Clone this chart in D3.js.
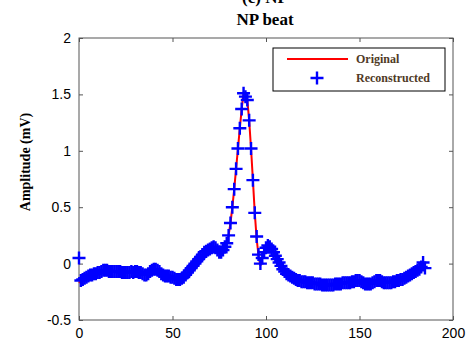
<!DOCTYPE html>
<html>
<head>
<meta charset="utf-8">
<script src="https://cdn.jsdelivr.net/npm/d3@7"></script>
<style>
body { margin: 0; background: #fff; }
</style>
</head>
<body>
<script>
// data (sample index 0..185, amplitude in mV)
var original = [
  -0.17, -0.15, -0.14, -0.13, -0.12, -0.11, -0.10, -0.10, -0.09, -0.09,
  -0.08, -0.08, -0.07, -0.06, -0.06, -0.06, -0.07, -0.07, -0.07, -0.07,
  -0.07, -0.07, -0.07, -0.08, -0.08, -0.08, -0.08, -0.08, -0.07, -0.08,
  -0.07, -0.07, -0.08, -0.08, -0.09, -0.10, -0.10, -0.09, -0.07, -0.06,
  -0.05, -0.05, -0.06, -0.07, -0.09, -0.10, -0.11, -0.11, -0.11, -0.12,
  -0.12, -0.13, -0.14, -0.14, -0.14, -0.13, -0.12, -0.10, -0.08, -0.06,
  -0.04, -0.02, 0.00, 0.02, 0.04, 0.06, 0.08, 0.10, 0.11, 0.12,
  0.13, 0.14, 0.15, 0.14, 0.12, 0.10, 0.10, 0.12, 0.15, 0.18,
  0.25, 0.36, 0.50, 0.66, 0.84, 1.02, 1.20, 1.37, 1.51, 1.50,
  1.45, 1.27, 1.02, 0.74, 0.45, 0.22, 0.07, -0.02, 0.05, 0.10,
  0.14, 0.16, 0.15, 0.13, 0.10, 0.07, 0.04, 0.01, -0.02, -0.05,
  -0.07, -0.09, -0.10, -0.11, -0.12, -0.13, -0.14, -0.15, -0.15, -0.16,
  -0.16, -0.16, -0.17, -0.17, -0.17, -0.17, -0.18, -0.18, -0.18, -0.18,
  -0.19, -0.19, -0.19, -0.19, -0.19, -0.19, -0.19, -0.18, -0.18, -0.18,
  -0.18, -0.17, -0.17, -0.17, -0.17, -0.17, -0.16, -0.16, -0.15, -0.15,
  -0.15, -0.16, -0.17, -0.18, -0.18, -0.18, -0.18, -0.17, -0.16, -0.15,
  -0.15, -0.15, -0.16, -0.17, -0.17, -0.17, -0.17, -0.17, -0.16, -0.16,
  -0.15, -0.15, -0.14, -0.14, -0.13, -0.12, -0.11, -0.10, -0.09, -0.08,
  -0.07, -0.06, -0.05, -0.04, -0.03, -0.05
];
var reconstructed = [
  0.05, -0.15, -0.14, -0.13, -0.12, -0.11, -0.10, -0.10, -0.09, -0.09,
  -0.08, -0.08, -0.07, -0.06, -0.06, -0.06, -0.07, -0.07, -0.07, -0.07,
  -0.07, -0.07, -0.07, -0.08, -0.08, -0.08, -0.08, -0.08, -0.07, -0.08,
  -0.07, -0.07, -0.08, -0.08, -0.09, -0.10, -0.10, -0.09, -0.07, -0.06,
  -0.05, -0.05, -0.06, -0.07, -0.09, -0.10, -0.11, -0.11, -0.11, -0.12,
  -0.12, -0.13, -0.14, -0.14, -0.14, -0.13, -0.12, -0.10, -0.08, -0.06,
  -0.04, -0.02, 0.00, 0.02, 0.04, 0.06, 0.08, 0.10, 0.11, 0.12,
  0.13, 0.14, 0.15, 0.14, 0.12, 0.10, 0.10, 0.12, 0.15, 0.18,
  0.25, 0.36, 0.50, 0.66, 0.84, 1.02, 1.20, 1.37, 1.51, 1.48,
  1.45, 1.27, 1.02, 0.74, 0.45, 0.24, 0.08, 0.00, 0.05, 0.10,
  0.14, 0.16, 0.15, 0.13, 0.10, 0.07, 0.04, 0.01, -0.02, -0.05,
  -0.07, -0.09, -0.10, -0.11, -0.12, -0.13, -0.14, -0.15, -0.15, -0.16,
  -0.16, -0.16, -0.17, -0.17, -0.17, -0.17, -0.18, -0.18, -0.18, -0.18,
  -0.19, -0.19, -0.19, -0.19, -0.19, -0.19, -0.19, -0.18, -0.18, -0.18,
  -0.18, -0.17, -0.17, -0.17, -0.17, -0.17, -0.16, -0.16, -0.15, -0.15,
  -0.15, -0.16, -0.17, -0.18, -0.18, -0.18, -0.18, -0.17, -0.16, -0.15,
  -0.15, -0.15, -0.16, -0.17, -0.17, -0.17, -0.17, -0.17, -0.16, -0.16,
  -0.15, -0.15, -0.14, -0.14, -0.13, -0.12, -0.11, -0.10, -0.09, -0.08,
  -0.07, -0.06, -0.05, -0.03, 0.01, -0.04
];
var xTicks = [0, 50, 100, 150, 200];
var yTicks = [-0.5, 0, 0.5, 1, 1.5, 2];
var legendLabels = ["Original", "Reconstructed"];

var W = 474, H = 350;
var pLeft = 79, pRight = 453, pTop = 38, pBottom = 320;

var svg = d3.select("body").append("svg")
    .attr("width", W)
    .attr("height", H);

var x = d3.scaleLinear().domain([0, 200]).range([pLeft, pRight]);
var y = d3.scaleLinear().domain([-0.5, 2]).range([pBottom, pTop]);

// axes, matlab style box with inward ticks
var axisCol = "#555";
svg.append("g")
    .attr("transform", "translate(0," + pBottom + ")")
    .call(d3.axisBottom(x).tickValues(xTicks).tickSize(-4).tickPadding(8).tickFormat(d3.format("d")))
    .call(g => g.select(".domain").remove());
svg.append("g")
    .attr("transform", "translate(0," + pTop + ")")
    .call(d3.axisTop(x).tickValues(xTicks).tickSize(-4).tickFormat(""))
    .call(g => g.select(".domain").remove());
svg.append("g")
    .attr("transform", "translate(" + pLeft + ",0)")
    .call(d3.axisLeft(y).tickValues(yTicks).tickSize(-4).tickPadding(8).tickFormat(d => d))
    .call(g => g.select(".domain").remove());
svg.append("g")
    .attr("transform", "translate(" + pRight + ",0)")
    .call(d3.axisRight(y).tickValues(yTicks).tickSize(-4).tickFormat(""))
    .call(g => g.select(".domain").remove());

svg.selectAll(".tick line").attr("stroke", axisCol);
svg.selectAll(".tick text")
    .attr("fill", "#000")
    .style("font-family", "Liberation Sans, Arial, sans-serif")
    .style("font-size", "14px");

svg.append("rect")
    .attr("x", pLeft).attr("y", pTop)
    .attr("width", pRight - pLeft).attr("height", pBottom - pTop)
    .attr("fill", "none")
    .attr("stroke", axisCol)
    .attr("stroke-width", 1);

// original signal
var line = d3.line()
    .x((d, i) => x(i))
    .y(d => y(d));

svg.append("path")
    .datum(original)
    .attr("d", line)
    .attr("fill", "none")
    .attr("stroke", "#ff0000")
    .attr("stroke-width", 2);

// reconstructed as + markers
var plus = "M-6.5,0H6.5M0,-6.5V6.5";
svg.selectAll("path.mk")
    .data(reconstructed)
    .enter()
    .append("path")
    .attr("class", "mk")
    .attr("transform", (d, i) => "translate(" + x(i) + "," + y(d) + ")")
    .attr("d", plus)
    .attr("fill", "none")
    .attr("stroke", "#0000ff")
    .attr("stroke-width", 2.4);

// titles
svg.append("text")
    .text("(c) NP")
    .attr("x", 265).attr("y", 3)
    .attr("text-anchor", "middle")
    .style("font-family", "Liberation Serif, Times New Roman, serif")
    .style("font-weight", "bold")
    .style("font-size", "17px");

svg.append("text")
    .text("NP beat")
    .attr("x", 265).attr("y", 25)
    .attr("text-anchor", "middle")
    .style("font-family", "Liberation Serif, Times New Roman, serif")
    .style("font-weight", "bold")
    .style("font-size", "17px");

svg.append("text")
    .text("Amplitude (mV)")
    .attr("transform", "translate(30,162) rotate(-90)")
    .attr("text-anchor", "middle")
    .style("font-family", "Liberation Serif, Times New Roman, serif")
    .style("font-weight", "bold")
    .style("font-size", "14px");

// legend
var lg = svg.append("g");
lg.append("rect")
    .attr("x", 273).attr("y", 48)
    .attr("width", 172).attr("height", 43)
    .attr("fill", "#fff")
    .attr("stroke", "#000")
    .attr("stroke-width", 1);
lg.append("line")
    .attr("x1", 287).attr("x2", 348)
    .attr("y1", 59).attr("y2", 59)
    .attr("stroke", "#ff0000")
    .attr("stroke-width", 2);
lg.append("path")
    .attr("transform", "translate(317,78)")
    .attr("d", plus)
    .attr("stroke", "#0000ff")
    .attr("stroke-width", 2.4);
lg.selectAll("text")
    .data(legendLabels)
    .enter()
    .append("text")
    .text(d => d)
    .attr("x", 356)
    .attr("y", (d, i) => 63 + i * 19)
    .attr("fill", "#4f3a26")
    .style("font-family", "Liberation Serif, Times New Roman, serif")
    .style("font-weight", "bold")
    .style("font-size", "12px");
</script>
</body>
</html>
